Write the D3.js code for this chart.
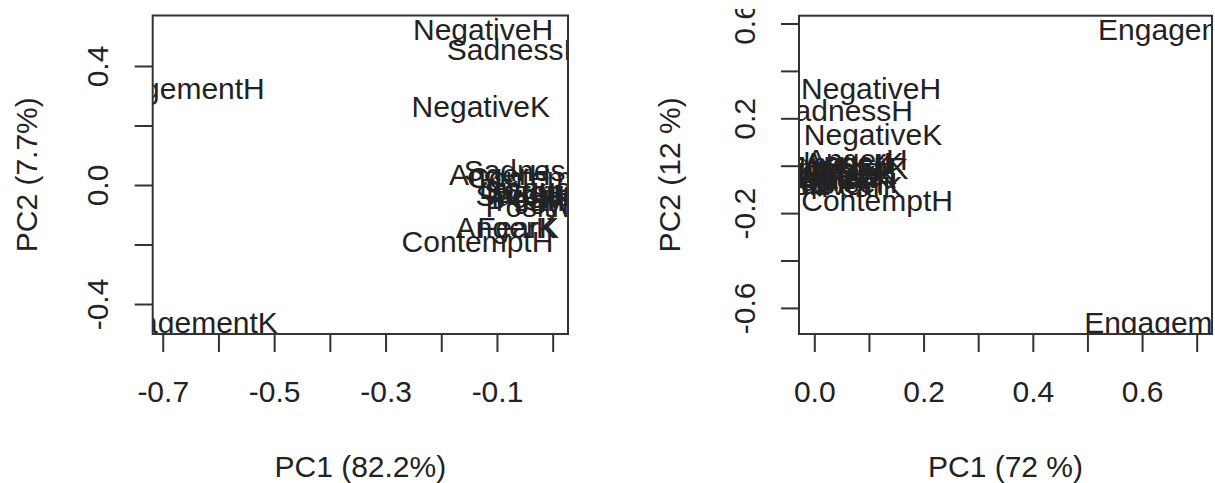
<!DOCTYPE html>
<html>
<head>
<meta charset="utf-8">
<script src="https://cdn.jsdelivr.net/npm/d3@7"></script>
<style>
  html, body { margin: 0; padding: 0; background: #fff; }
  svg { display: block; }
  text { font-family: "Liberation Sans", Arial, sans-serif; fill: #222; }
</style>
</head>
<body>
<div id="chart"></div>
<script>
// Variable loadings, first PCA (left panel)
const leftNames = ["NegativeH", "SadnessH", "EngagementH", "NegativeK", "EngagementK", "ContemptH",
  "AngerH", "SadnessK", "ContemptK", "SurpriseH", "PositiveH", "DisgustH", "DisgustK", "FearH",
  "JoyH", "JoyK", "SurpriseK", "PositiveK", "FearK", "AngerK"];
const leftPC1 = [-0.125, -0.066, -0.689, -0.129, -0.664, -0.135,
  -0.095, -0.037, -0.019, -0.019, -0.007, -0.023, -0.012, -0.028,
  -0.022, -0.008, -0.005, 0.002, -0.062, -0.084];
const leftPC2 = [0.524, 0.457, 0.326, 0.266, -0.46, -0.188,
  0.037, 0.05, 0.027, -0.034, -0.07, -0.01, -0.02, -0.05,
  -0.03, -0.06, -0.02, -0.04, -0.141, -0.141];

// Variable loadings, second PCA (right panel)
const rightNames = ["EngagementH", "EngagementK", "NegativeH", "SadnessH", "NegativeK", "ContemptH",
  "AngerH", "AngerK", "SurpriseK", "FearK", "SadnessK", "ContemptK", "DisgustH", "DisgustK",
  "FearH", "JoyH", "JoyK", "SurpriseH", "PositiveH", "PositiveK"];
const rightPC1 = [0.695, 0.668, 0.104, 0.054, 0.1075, 0.115,
  0.078, 0.072, 0.031, 0.087, 0.02, 0.035, 0.01, 0.04,
  0.015, 0.02, 0.005, 0.03, 0.012, 0.025];
const rightPC2 = [0.577, -0.66, 0.328, 0.235, 0.132, -0.145,
  0.028, 0.015, -0.03, -0.086, 0.01, -0.01, -0.02, -0.05,
  -0.06, 0.0, -0.04, -0.07, -0.08, -0.05];

// Axis ticks and which of them carry a label
const leftXTicks = [-0.7, -0.6, -0.5, -0.4, -0.3, -0.2, -0.1, 0.0];
const leftXLabels = [-0.7, -0.5, -0.3, -0.1];
const leftYTicks = [-0.4, -0.2, 0.0, 0.2, 0.4];
const leftYLabels = [-0.4, 0.0, 0.4];
const rightXTicks = [0.0, 0.1, 0.2, 0.3, 0.4, 0.5, 0.6, 0.7];
const rightXLabels = [0.0, 0.2, 0.4, 0.6];
const rightYTicks = [-0.6, -0.4, -0.2, 0.0, 0.2, 0.4, 0.6];
const rightYLabels = [-0.6, -0.2, 0.2, 0.6];

const W = 1215, H = 483;
const FONT = 30;

const svg = d3.select("#chart").append("svg").attr("width", W).attr("height", H);
const defs = svg.append("defs");
defs.append("clipPath").attr("id", "page").append("rect")
  .attr("x", 0).attr("y", 9).attr("width", W).attr("height", H - 9);
const root = svg.append("g").attr("clip-path", "url(#page)");

function panel(opt) {
  const x = d3.scaleLinear().domain(opt.xDomain).range([opt.left, opt.right]);
  const y = d3.scaleLinear().domain(opt.yDomain).range([opt.bottom, opt.top]);
  const g = root.append("g");
  const fmt = labels => d => labels.some(v => Math.abs(v - d) < 1e-9) ? d.toFixed(1) : "";

  // bottom axis
  const ax = g.append("g").attr("transform", `translate(0,${opt.bottom})`)
    .call(d3.axisBottom(x).tickValues(opt.xTicks).tickFormat(fmt(opt.xLabels)).tickSize(18));
  ax.select(".domain").remove();
  ax.selectAll(".tick line").attr("stroke", "#333").attr("stroke-width", 2);
  ax.selectAll(".tick text").attr("y", 401.5 - opt.bottom).attr("dy", 0)
    .style("font-size", FONT + "px").style("fill", "#222")
    .style("font-family", '"Liberation Sans", Arial, sans-serif');

  // left axis, labels rotated parallel to the axis
  const ay = g.append("g").attr("transform", `translate(${opt.left},0)`)
    .call(d3.axisLeft(y).tickValues(opt.yTicks).tickFormat(fmt(opt.yLabels)).tickSize(18));
  ay.select(".domain").remove();
  ay.selectAll(".tick line").attr("stroke", "#333").attr("stroke-width", 2);
  ay.selectAll(".tick text")
    .attr("x", null).attr("dy", null)
    .attr("text-anchor", "middle")
    .attr("transform", `translate(${opt.yLabelX - opt.left},0) rotate(-90)`)
    .style("font-size", FONT + "px").style("fill", "#222")
    .style("font-family", '"Liberation Sans", Arial, sans-serif');

  // axis titles
  g.append("text").attr("x", (opt.left + opt.right) / 2).attr("y", 477)
    .attr("text-anchor", "middle").style("font-size", FONT + "px").text(opt.xTitle);
  g.append("text")
    .attr("transform", `translate(${opt.yTitleX},${(opt.top + opt.bottom) / 2}) rotate(-90)`)
    .attr("text-anchor", "middle").style("font-size", FONT + "px").text(opt.yTitle);

  // variable names placed at their loadings, clipped to the plot region
  defs.append("clipPath").attr("id", opt.id).append("rect")
    .attr("x", opt.left).attr("y", opt.top)
    .attr("width", opt.right - opt.left).attr("height", opt.bottom - opt.top);
  const pts = opt.names.map((n, i) => ({ n, a: opt.pc1[i], b: opt.pc2[i] }));
  g.append("g").attr("clip-path", `url(#${opt.id})`)
    .selectAll("text").data(pts).join("text")
    .attr("x", d => x(d.a)).attr("y", d => y(d.b)).attr("dy", "0.36em")
    .attr("text-anchor", "middle").style("font-size", FONT + "px")
    .text(d => d.n);

  // plot box
  g.append("rect").attr("x", opt.left).attr("y", opt.top)
    .attr("width", opt.right - opt.left).attr("height", opt.bottom - opt.top)
    .attr("fill", "none").attr("stroke", "#333").attr("stroke-width", 2);
}

panel({
  id: "clipL", left: 152.7, right: 568, top: 15.5, bottom: 334,
  xDomain: [-0.718, 0.0275], yDomain: [-0.5008, 0.5697],
  xTicks: leftXTicks, xLabels: leftXLabels, yTicks: leftYTicks, yLabels: leftYLabels,
  names: leftNames, pc1: leftPC1, pc2: leftPC2,
  xTitle: "PC1 (82.2%)", yTitle: "PC2 (7.7%)", yLabelX: 108, yTitleX: 36.7
});

panel({
  id: "clipR", left: 799, right: 1212, top: 15.7, bottom: 334,
  xDomain: [-0.028, 0.728], yDomain: [-0.7101, 0.6329],
  xTicks: rightXTicks, xLabels: rightXLabels, yTicks: rightYTicks, yLabels: rightYLabels,
  names: rightNames, pc1: rightPC1, pc2: rightPC2,
  xTitle: "PC1 (72 %)", yTitle: "PC2 (12 %)", yLabelX: 755, yTitleX: 680
});
</script>
</body>
</html>
